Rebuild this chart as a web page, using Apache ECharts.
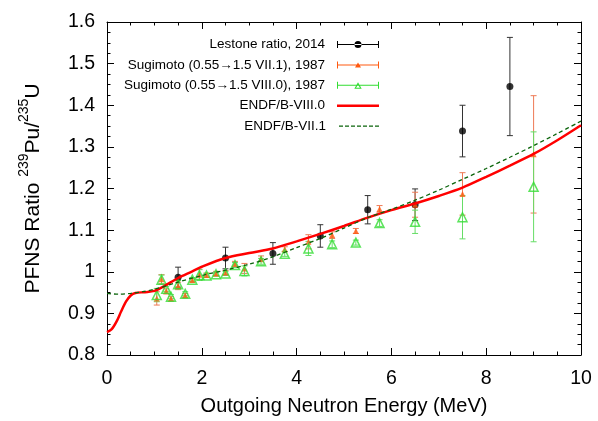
<!DOCTYPE html>
<html>
<head>
<meta charset="utf-8">
<script src="https://cdn.jsdelivr.net/npm/echarts@6/dist/echarts.min.js"></script>
<style>
html,body{margin:0;padding:0;background:#fff;}
#chart{width:598px;height:421px;}
</style>
</head>
<body>
<div id="chart"></div>
<script>
/*数据 start*/
// Lestone ratio, 2014
var lestoneE = [1.5, 2.5, 3.5, 4.5, 5.5, 6.5, 7.5, 8.5];
var lestoneR = [0.987, 1.033, 1.044, 1.086, 1.149, 1.161, 1.338, 1.445];
var lestoneErr = [0.024, 0.026, 0.026, 0.027, 0.034, 0.038, 0.062, 0.118];

// Sugimoto 1987
var sugiE = [1.05, 1.15, 1.25, 1.35, 1.5, 1.65, 1.8, 1.95, 2.1, 2.3, 2.5, 2.7, 2.9, 3.25, 3.75, 4.25, 4.75, 5.25, 5.75, 6.5, 7.5, 9.0];
var sugi71R = [0.936, 0.982, 0.953, 0.935, 0.966, 0.943, 0.980, 0.993, 0.992, 0.996, 0.998, 1.019, 1.008, 1.031, 1.054, 1.072, 1.088, 1.098, 1.151, 1.161, 1.187, 1.282];
var sugi71Err = [0.016, 0.011, 0.006, 0.005, 0.009, 0.005, 0.005, 0.013, 0.005, 0.005, 0.005, 0.006, 0.012, 0.007, 0.006, 0.017, 0.008, 0.006, 0.008, 0.030, 0.051, 0.141];
var sugi80R = [0.944, 0.981, 0.959, 0.940, 0.970, 0.947, 0.981, 0.992, 0.991, 0.994, 0.996, 1.016, 1.002, 1.025, 1.043, 1.056, 1.066, 1.070, 1.117, 1.120, 1.131, 1.204];
var sugi80Err = [0.016, 0.011, 0.006, 0.005, 0.009, 0.005, 0.005, 0.013, 0.005, 0.005, 0.005, 0.006, 0.012, 0.007, 0.006, 0.017, 0.008, 0.006, 0.008, 0.028, 0.052, 0.132];

// ENDF/B-VIII.0
var endf80E = [0, 0.1, 0.2, 0.3, 0.4, 0.5, 0.6, 0.8, 1.0, 1.2, 1.5, 1.8, 2.0, 2.5, 3.0, 3.5, 4.0, 4.5, 5.0, 5.5, 6.0, 6.5, 7.0, 7.5, 8.0, 8.5, 9.0, 9.5, 10];
var endf80R = [0.855, 0.862, 0.880, 0.905, 0.928, 0.943, 0.949, 0.951, 0.954, 0.965, 0.985, 1.001, 1.012, 1.033, 1.045, 1.056, 1.073, 1.091, 1.110, 1.130, 1.148, 1.164, 1.182, 1.202, 1.228, 1.255, 1.283, 1.316, 1.352];

// ENDF/B-VII.1
var endf71E = [0, 0.25, 0.5, 0.75, 1.0, 1.5, 2.0, 2.5, 3.0, 3.5, 4.0, 4.5, 5.0, 5.5, 6.0, 6.5, 7.0, 7.5, 8.0, 8.5, 9.0, 9.5, 10];
var endf71R = [0.948, 0.946, 0.948, 0.952, 0.958, 0.975, 0.991, 1.004, 1.018, 1.036, 1.058, 1.080, 1.105, 1.130, 1.150, 1.172, 1.196, 1.222, 1.248, 1.275, 1.303, 1.332, 1.362];

var names = ['Lestone ratio, 2014', 'Sugimoto (0.55\u21921.5 VII.1), 1987', 'Sugimoto (0.55\u21921.5 VIII.0), 1987', 'ENDF/B-VIII.0', 'ENDF/B-VII.1'];
/*数据 end*/

function pts(xs, ys) {
    return xs.map(function (x, i) { return [x, ys[i]]; });
}
function errPts(xs, ys, es) {
    return xs.map(function (x, i) { return [x, ys[i], es[i]]; });
}
function errBar(color, cap) {
    return function (params, api) {
        var x = api.value(0), y = api.value(1), e = api.value(2);
        var t = api.coord([x, y + e]);
        var b = api.coord([x, y - e]);
        var st = { stroke: color, lineWidth: 1 };
        return {
            type: 'group',
            children: [
                { type: 'line', shape: { x1: t[0], y1: t[1], x2: b[0], y2: b[1] }, style: st },
                { type: 'line', shape: { x1: t[0] - cap, y1: t[1], x2: t[0] + cap, y2: t[1] }, style: st },
                { type: 'line', shape: { x1: b[0] - cap, y1: b[1], x2: b[0] + cap, y2: b[1] }, style: st }
            ]
        };
    };
}

// 图例图标
var barPath = 'M0,0.5h1v7h-1z M1,3.5h40v1h-40z M41,0.5h1v7h-1z ';
var iconLestone = 'path://' + barPath + 'M17.5,4a3.5,3.5 0 1,0 7,0a3.5,3.5 0 1,0 -7,0z';
var iconOrange = 'path://' + barPath + 'M18,6.5L21,1.5L24,6.5z';
var iconGreen = 'path://' + barPath + 'M17.3,7.5L21,1L24.7,7.5z M19.1,6.5L22.9,6.5L21,3.1z';
var iconRed = 'path://M0,0h42v2.5h-42z';
var iconDash = 'path://';
for (var k = 0; k < 42; k += 6) {
    iconDash += 'M' + k + ',0h' + Math.min(4, 42 - k) + 'v1.3h-' + Math.min(4, 42 - k) + 'z ';
}

var cBlack = '#000000', cBlackBar = '#333333';
var cOrange = '#ff5a10', cOrangeBar = '#ee7a55';
var cGreen = '#33dd33', cGreenBar = '#66dd66';
var cRed = '#ff0000', cDash = '#0a640a';

var fontFam = '"Liberation Sans", Arial, sans-serif';

function legendAt(i, icon, color, h) {
    return {
        data: [{ name: names[i], icon: icon, itemStyle: { color: color, borderWidth: 0 } }],
        right: 219,
        top: 37.5 + i * 20.4,
        align: 'right',
        itemWidth: 42,
        itemHeight: h,
        padding: 0,
        selectedMode: false,
        textStyle: { fontSize: 13.5, fontFamily: fontFam, color: '#000', padding: [0, 7, 0, 0] }
    };
}

var axisBase = {
    type: 'value',
    axisLine: { show: true, onZero: false, lineStyle: { color: '#000', width: 1 } },
    axisTick: { show: true, inside: true, length: 7, lineStyle: { color: '#000' } },
    minorTick: { show: true, splitNumber: 4, length: 3.5, lineStyle: { color: '#000' } },
    splitLine: { show: false },
    minorSplitLine: { show: false }
};

function axis(extra) {
    return echarts.util.merge(echarts.util.clone(axisBase), extra, true);
}

var option = {
    animation: false,
    backgroundColor: '#fff',
    grid: { left: 107, right: 17, top: 22, bottom: 61 },
    legend: [
        legendAt(0, iconLestone, cBlack, 8),
        legendAt(1, iconOrange, cOrange, 8),
        legendAt(2, iconGreen, cGreen, 8),
        legendAt(3, iconRed, cRed, 2.5),
        legendAt(4, iconDash, cDash, 1.3)
    ],
    xAxis: [
        axis({
            min: 0, max: 10, interval: 2,
            name: 'Outgoing Neutron Energy (MeV)',
            nameLocation: 'middle',
            nameGap: 41,
            nameTextStyle: { fontSize: 20, fontFamily: fontFam, color: '#000' },
            axisLabel: { fontSize: 19.5, fontFamily: fontFam, color: '#000', margin: 14 }
        }),
        axis({
            min: 0, max: 10, interval: 2, position: 'top',
            axisLabel: { show: false }
        })
    ],
    yAxis: [
        axis({
            min: 0.8, max: 1.6, interval: 0.1,
            name: '{n|PFNS Ratio }{s|239}{n|Pu/}{s|235}{n|U}',
            nameLocation: 'middle',
            nameGap: 63,
            nameTextStyle: {
                fontFamily: fontFam, color: '#000',
                rich: {
                    n: { fontSize: 21, fontFamily: fontFam, lineHeight: 27, verticalAlign: 'bottom' },
                    s: { fontSize: 14, fontFamily: fontFam, lineHeight: 14, verticalAlign: 'top' }
                }
            },
            axisLabel: { fontSize: 19.5, fontFamily: fontFam, color: '#000', margin: 12 }
        }),
        axis({
            min: 0.8, max: 1.6, interval: 0.1, position: 'right',
            axisLabel: { show: false }
        })
    ],
    series: [
        {
            name: names[0], type: 'custom',
            renderItem: errBar(cBlackBar, 3),
            encode: { x: 0, y: 1 },
            data: errPts(lestoneE, lestoneR, lestoneErr),
            z: 2
        },
        {
            name: names[0], type: 'scatter',
            symbol: 'circle', symbolSize: 7,
            itemStyle: { color: cBlack },
            data: pts(lestoneE, lestoneR),
            z: 3
        },
        {
            name: names[1], type: 'custom',
            renderItem: errBar(cOrangeBar, 3),
            encode: { x: 0, y: 1 },
            data: errPts(sugiE, sugi71R, sugi71Err),
            z: 2
        },
        {
            name: names[1], type: 'scatter',
            symbol: 'triangle', symbolSize: 6,
            itemStyle: { color: cOrange },
            data: pts(sugiE, sugi71R),
            z: 3
        },
        {
            name: names[2], type: 'custom',
            renderItem: errBar(cGreenBar, 3),
            encode: { x: 0, y: 1 },
            data: errPts(sugiE, sugi80R, sugi80Err),
            z: 2
        },
        {
            name: names[2], type: 'scatter',
            symbol: 'triangle', symbolSize: 9,
            itemStyle: { color: 'rgba(0,0,0,0)', borderColor: cGreen, borderWidth: 1.5 },
            data: pts(sugiE, sugi80R),
            z: 3
        },
        {
            name: names[3], type: 'line',
            showSymbol: false, symbol: 'none',
            smooth: 0.3,
            lineStyle: { color: cRed, width: 2.5 },
            itemStyle: { color: cRed },
            data: pts(endf80E, endf80R),
            z: 4
        },
        {
            name: names[4], type: 'line',
            showSymbol: false, symbol: 'none',
            smooth: 0.3,
            lineStyle: { color: cDash, width: 1.3, type: [4, 3] },
            itemStyle: { color: cDash },
            data: pts(endf71E, endf71R),
            z: 5
        }
    ]
};

echarts.init(document.getElementById('chart')).setOption(option);
</script>
</body>
</html>
